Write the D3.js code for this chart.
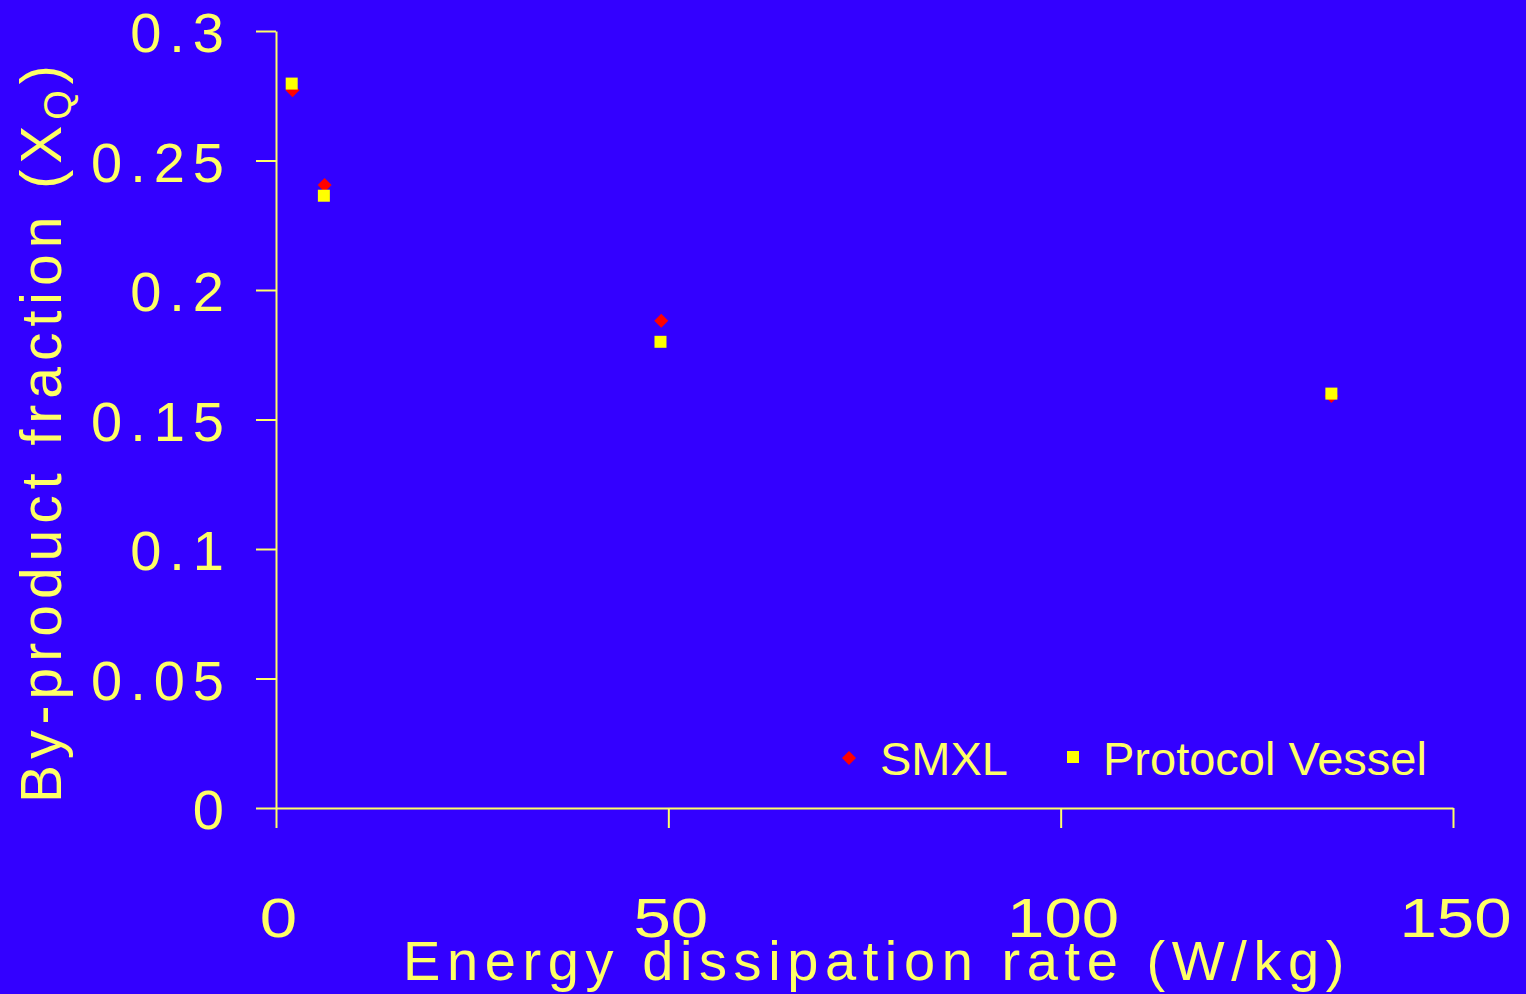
<!DOCTYPE html>
<html>
<head>
<meta charset="utf-8">
<script src="https://cdn.jsdelivr.net/npm/d3@7"></script>
<style>
  html, body { margin: 0; padding: 0; background: #3300ff; }
  svg { display: block; }
  text { font-family: "Liberation Sans", Arial, sans-serif; fill: #ffff66; }
</style>
</head>
<body>
<svg id="chart" width="1526" height="994"></svg>
<script>
// energy dissipation rate (W/kg) vs by-product fraction
const smxlX = [2.1, 6.2, 49.1, 134.5];
const smxlY = [0.2771, 0.2405, 0.1881, 0.1591];
const vesselX = [2.0, 6.1, 49.0, 134.5];
const vesselY = [0.2797, 0.2364, 0.1800, 0.1600];
const xTicks = [0, 50, 100, 150];
const yTicks = [0, 0.05, 0.1, 0.15, 0.2, 0.25, 0.3];
const seriesNames = ["SMXL", "Protocol Vessel"];

const svg = d3.select("#chart");
const W = 1526, H = 994;
svg.append("rect").attr("width", W).attr("height", H).attr("fill", "#3300ff");

const x = d3.scaleLinear().domain([0, 150]).range([276, 1453]);
const y = d3.scaleLinear().domain([0, 0.3]).range([808, 31]);

const axisCol = "#ffff66";

// x axis
const gx = svg.append("g")
    .attr("transform", `translate(0, ${y(0)})`)
    .call(d3.axisBottom(x).tickValues(xTicks).tickSize(20).tickSizeOuter(0)
        .tickFormat(d3.format("d")));
gx.select(".domain").attr("stroke", axisCol).attr("stroke-width", 2);
gx.selectAll(".tick line").attr("stroke", axisCol).attr("stroke-width", 2);
gx.selectAll(".tick text")
    .attr("y", 89).attr("dy", "0.71em")
    .attr("transform", "translate(2,0) scale(1.2,1)")
    .attr("fill", axisCol)
    .style("font-size", "56px");

// y axis
const gy = svg.append("g")
    .attr("transform", `translate(${x(0)}, 0)`)
    .call(d3.axisLeft(y).tickValues(yTicks).tickSize(20).tickSizeOuter(0)
        .tickFormat(d => d3.format("")(+d.toFixed(2))));
gy.select(".domain").attr("stroke", axisCol).attr("stroke-width", 2);
gy.selectAll(".tick line").attr("stroke", axisCol).attr("stroke-width", 2);
gy.selectAll(".tick text")
    .attr("x", -44).attr("dy", "0.37em")
    .attr("fill", axisCol)
    .style("font-size", "56px")
    .style("letter-spacing", "8px");

// axis titles
svg.append("text")
    .attr("x", 403).attr("y", 980)
    .style("font-size", "56px")
    .style("letter-spacing", "6.6px")
    .text("Energy dissipation rate (W/kg)");

const yt = svg.append("text")
    .attr("transform", "translate(61, 803) rotate(-90)")
    .style("font-size", "57px")
    .style("letter-spacing", "6px");
yt.append("tspan").text("By-product fraction (X");
yt.append("tspan").attr("dy", 10).style("font-size", "38px").text("Q");
yt.append("tspan").attr("dy", -10).text(")");

// markers
const diamond = d3.symbol().type(d3.symbolSquare).size(98);
const square = d3.symbol().type(d3.symbolSquare).size(144);

svg.append("g").selectAll("path")
    .data(smxlX.map((v, i) => [v, smxlY[i]]))
    .join("path")
    .attr("d", diamond)
    .attr("transform", d => `translate(${x(d[0])}, ${y(d[1])}) rotate(45)`)
    .attr("fill", "#ff0000");

svg.append("g").selectAll("path")
    .data(vesselX.map((v, i) => [v, vesselY[i]]))
    .join("path")
    .attr("d", square)
    .attr("transform", d => `translate(${x(d[0])}, ${y(d[1])})`)
    .attr("fill", "#ffff00");

// legend
const leg = svg.append("g");
leg.append("path").attr("d", diamond)
    .attr("transform", "translate(849, 758) rotate(45)").attr("fill", "#ff0000");
leg.append("text").attr("x", 880).attr("y", 775)
    .style("font-size", "47px").text(seriesNames[0]);
leg.append("path").attr("d", square)
    .attr("transform", "translate(1073, 757)").attr("fill", "#ffff00");
leg.append("text").attr("x", 1103).attr("y", 775)
    .style("font-size", "47px").text(seriesNames[1]);
</script>
</body>
</html>
